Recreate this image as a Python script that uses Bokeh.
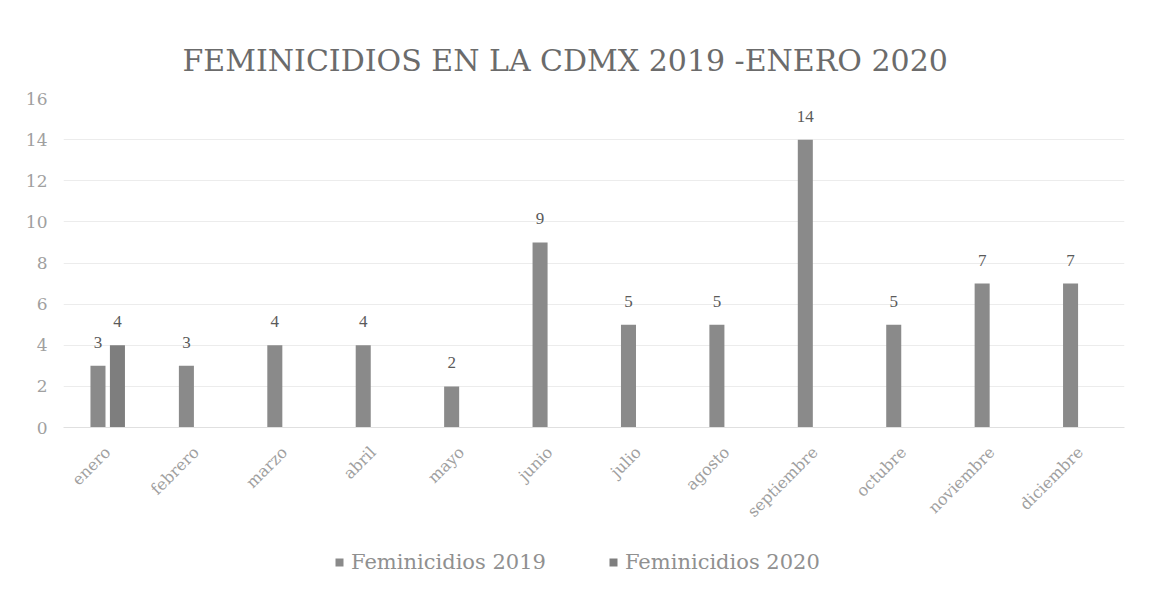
import math
from bokeh.plotting import figure
from bokeh.layouts import column
from bokeh.models import ColumnDataSource, LabelSet, Legend, LegendItem, FactorRange, SingleIntervalTicker
from bokeh.transform import dodge
from bokeh.embed import file_html
from bokeh.resources import INLINE

months = ["enero", "febrero", "marzo", "abril", "mayo", "junio", "julio",
          "agosto", "septiembre", "octubre", "noviembre", "diciembre"]
fem_2019 = [3, 3, 4, 4, 2, 9, 5, 5, 14, 5, 7, 7]
fem_2020_months = ["enero"]
fem_2020 = [4]
series_names = ["Feminicidios 2019", "Feminicidios 2020"]
title_text = "FEMINICIDIOS EN LA CDMX 2019 -ENERO 2020"

FONT = "DejaVu Serif"
C19 = "#8a8a8a"
C20 = "#7e7e7e"

src19 = ColumnDataSource(dict(m=months, v=fem_2019, t=[str(v) for v in fem_2019]))
src20 = ColumnDataSource(dict(m=fem_2020_months, v=fem_2020, t=[str(v) for v in fem_2020]))

p = figure(x_range=FactorRange(*months), y_range=(0, 16),
           frame_width=1061, frame_height=329,
           output_backend="svg", toolbar_location=None,
           min_border_left=63, min_border_right=10, min_border_top=98, min_border_bottom=90)

p.title.text = title_text
p.title.align = "left"
p.title.offset = 119
p.title.text_font = FONT
p.title.text_font_size = "30px"
p.title.text_font_style = "normal"
p.title.text_color = "#6b6b6b"
p.title.standoff = 42

r19 = p.vbar(x=dodge("m", -0.11, range=p.x_range), top="v", width=0.17, source=src19,
             fill_color=C19, line_color=None)
r20 = p.vbar(x=dodge("m", 0.11, range=p.x_range), top="v", width=0.17, source=src20,
             fill_color=C20, line_color=None)

lab19 = LabelSet(x=dodge("m", -0.11, range=p.x_range), y="v", text="t", source=src19,
                 text_align="center", y_offset=18, text_font=FONT, text_font_size="17px",
                 text_color="#5a5a5a")
lab20 = LabelSet(x=dodge("m", 0.11, range=p.x_range), y="v", text="t", source=src20,
                 text_align="center", y_offset=18, text_font=FONT, text_font_size="17px",
                 text_color="#5a5a5a")
p.add_layout(lab19)
p.add_layout(lab20)

p.yaxis.ticker = SingleIntervalTicker(interval=2)
p.yaxis.axis_line_color = None
p.yaxis.major_tick_line_color = None
p.yaxis.minor_tick_line_color = None
p.yaxis.major_label_text_font = FONT
p.yaxis.major_label_text_font_size = "17px"
p.yaxis.major_label_text_color = "#a0a0a0"
p.yaxis.major_label_standoff = 10

p.xaxis.axis_line_color = "#e0e0e0"
p.xaxis.major_tick_line_color = None
p.xaxis.minor_tick_line_color = None
p.xaxis.major_label_orientation = math.pi / 4
p.xaxis.major_label_text_font = FONT
p.xaxis.major_label_text_font_size = "16px"
p.xaxis.major_label_text_color = "#a0a0a0"
p.xaxis.major_label_standoff = 16

p.xgrid.grid_line_color = None
p.ygrid.grid_line_color = "#ececec"
p.ygrid.grid_line_width = 1
p.outline_line_color = None
p.x_range.range_padding = 0
p.x_range.factor_padding = 0

# legend strip below the chart
lg = figure(width=1134, height=66, x_range=(0, 1), y_range=(0, 1),
            output_backend="svg", toolbar_location=None,
            min_border=0, min_border_left=0, min_border_right=0,
            min_border_top=0, min_border_bottom=0)
lg.axis.visible = False
lg.grid.visible = False
lg.outline_line_color = None
e19 = lg.vbar(x=[-10], top=[-5], bottom=[-6], width=0.1, fill_color=C19, line_color=None)
e20 = lg.vbar(x=[-10], top=[-5], bottom=[-6], width=0.1, fill_color=C20, line_color=None)
legend = Legend(items=[LegendItem(label=series_names[0], renderers=[e19]),
                       LegendItem(label=series_names[1], renderers=[e20])],
                orientation="horizontal", location=(271, 22),
                label_text_font=FONT, label_text_font_size="21px",
                label_text_color="#909090", glyph_width=10, glyph_height=10,
                label_standoff=7, spacing=62, border_line_color=None,
                background_fill_alpha=0, padding=4, margin=0)
lg.add_layout(legend)

layout = column(p, lg, spacing=0)
open("out.html", "w").write(file_html(layout, INLINE))
